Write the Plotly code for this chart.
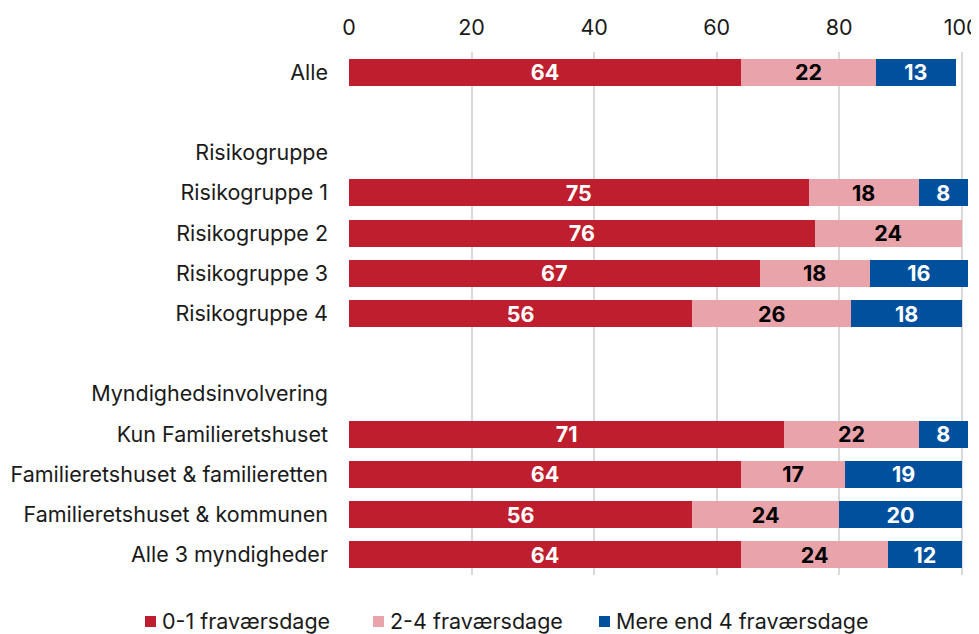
import plotly.graph_objects as go

categories = ["Alle", " ", "Risikogruppe", "Risikogruppe 1", "Risikogruppe 2",
              "Risikogruppe 3", "Risikogruppe 4", "  ", "Myndighedsinvolvering",
              "Kun Familieretshuset", "Familieretshuset & familieretten",
              "Familieretshuset & kommunen", "Alle 3 myndigheder"]
v_0_1 = [64, None, None, 75, 76, 67, 56, None, None, 71, 64, 56, 64]
v_2_4 = [22, None, None, 18, 24, 18, 26, None, None, 22, 17, 24, 24]
v_4p = [13, None, None, 8, None, 16, 18, None, None, 8, 19, 20, 12]
series_names = ["0-1 fraværsdage", "2-4 fraværsdage", "Mere end 4 fraværsdage"]
x_ticks = [0, 20, 40, 60, 80, 100]

colors = ["#BE1E2D", "#E8A4AA", "#00509E"]
text_colors = ["white", "black", "white"]
FONT = "Inter"
FS = 21.5

# page body has an 8px margin, so the figure is sized to fit the window
W, H = 971, 626
ML, MR, MT, MB = 341, 5, 44, 59

fig = go.Figure()
for name, vals, c, tc in zip(series_names, [v_0_1, v_2_4, v_4p], colors, text_colors):
    fig.add_trace(go.Bar(
        y=categories, x=vals, name=name, orientation="h",
        marker=dict(color=c, line=dict(width=0)),
        text=[("" if v is None else str(v)) for v in vals],
        textposition="inside", insidetextanchor="middle",
        textfont=dict(family=FONT, size=FS, color=tc, weight="bold"),
        textangle=0, constraintext="none", showlegend=False,
    ))

# custom legend (square + label) below the plot
pw, ph = W - ML - MR, H - MT - MB
def px2paper_x(px):
    return (px - ML) / pw
def px2paper_y(py):
    return (H - MB - py) / ph

legend_sq_x = [137, 365, 591]
legend_txt_x = [152, 380, 606]
legend_y = 613
for name, c, sx, tx in zip(series_names, colors, legend_sq_x, legend_txt_x):
    fig.add_shape(type="rect", xref="paper", yref="paper",
                  x0=px2paper_x(sx), x1=px2paper_x(sx + 11),
                  y0=px2paper_y(legend_y - 5), y1=px2paper_y(legend_y + 6),
                  fillcolor=c, line=dict(width=0))
    fig.add_annotation(text=name, xref="paper", yref="paper",
                       x=px2paper_x(tx), y=px2paper_y(legend_y),
                       xanchor="left", yanchor="middle", showarrow=False,
                       font=dict(family=FONT, size=FS, color="#1a1a1a"))

fig.update_layout(
    barmode="stack", bargap=0.33,
    width=W, height=H,
    margin=dict(l=ML, r=MR, t=MT, b=MB, autoexpand=False),
    plot_bgcolor="white", paper_bgcolor="white",
    font=dict(family=FONT, size=FS, color="#1a1a1a"),
    uniformtext=dict(minsize=10, mode="show"),
    showlegend=False,
    xaxis=dict(side="top", range=[0, 102], tickvals=x_ticks,
               showgrid=True, gridcolor="#d9d9d9", gridwidth=2,
               zeroline=False, showline=False, ticks="",
               ticklabelstandoff=12, automargin=False,
               ticklabeloverflow="allow",
               tickfont=dict(family=FONT, size=FS, color="#1a1a1a")),
    yaxis=dict(categoryorder="array", categoryarray=categories,
               range=[len(categories) - 0.5, -0.5],
               showgrid=False, zeroline=False, showline=False, ticks="",
               ticklabelstandoff=20, automargin=False,
               tickfont=dict(family=FONT, size=FS, color="#1a1a1a")),
)

fig.write_html("out.html")
